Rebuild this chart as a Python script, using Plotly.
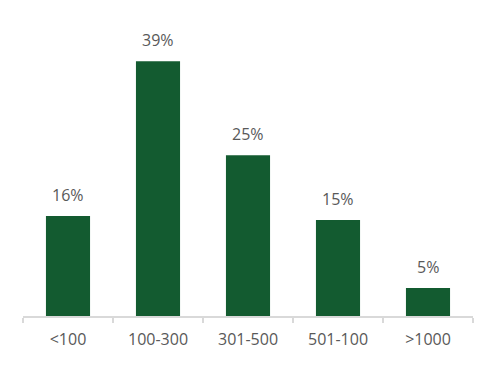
import plotly.graph_objects as go

categories = ["<100", "100-300", "301-500", "501-100", ">1000"]
values = [15.3, 39.0, 24.6, 14.7, 4.3]
labels = ["16%", "39%", "25%", "15%", "5%"]

FONT = "Open Sans, Liberation Sans, sans-serif"

fig = go.Figure()
fig.add_trace(go.Bar(x=categories, y=values, marker=dict(color="#135B30", line=dict(width=0)),
                     hoverinfo="skip"))

for c, v, t in zip(categories, values, labels):
    fig.add_annotation(x=c, y=v, text=t, showarrow=False, yanchor="middle", yshift=21,
                       font=dict(family=FONT, size=16, color="#595959"))

fig.update_layout(
    width=488, height=358,
    margin=dict(l=15, r=23, t=14, b=50),
    paper_bgcolor="white", plot_bgcolor="white",
    bargap=0.51,
    showlegend=False,
    font=dict(family=FONT, size=16, color="#595959"),
)
fig.update_xaxes(
    type="category", showline=True, linecolor="#D9D9D9", linewidth=1.5,
    ticks="outside", tickson="boundaries", tickcolor="#D9D9D9", ticklen=5, tickwidth=1.5,
    showgrid=False, zeroline=False, ticklabelstandoff=8,
    tickfont=dict(family=FONT, size=16, color="#595959"),
)
fig.update_yaxes(visible=False, range=[0, 45], showgrid=False, zeroline=False)

fig.write_html("out.html")
